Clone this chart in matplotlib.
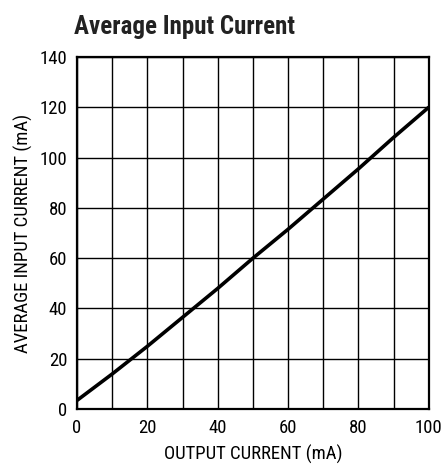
import matplotlib.pyplot as plt
from matplotlib import font_manager

# Wąska czcionka, jeśli jest zainstalowana
dostepne = {f.name for f in font_manager.fontManager.ttflist}
waskie = [n for n in ['Liberation Sans Narrow', 'Roboto Condensed', 'Open Sans Condensed'] if n in dostepne]
plt.rcParams['font.family'] = waskie + ['Liberation Sans', 'DejaVu Sans']

# Dane
output_current = [0, 10, 20, 30, 40, 50, 60, 70, 80, 90, 100]
input_current = [3.5, 14, 25, 36.5, 48, 60, 71.5, 83.5, 95.5, 108, 120]

fig = plt.figure(figsize=(4.43, 4.66), dpi=100)
ax = fig.add_axes([0.174, 0.122, 0.794, 0.756])

ax.plot(output_current, input_current, color='black', linewidth=2.6, solid_capstyle='butt')

ax.set_xlim(0, 100)
ax.set_ylim(0, 140)
ax.set_xticks(range(0, 101, 20))
ax.set_xticks(range(0, 101, 10), minor=True)
ax.set_yticks(range(0, 141, 20))
ax.grid(True, which='both', axis='x', color='black', linewidth=1.0)
ax.grid(True, which='major', axis='y', color='black', linewidth=1.0)
ax.tick_params(which='both', length=0, labelsize=13.5, pad=7)
for s in ax.spines.values():
    s.set_linewidth(1.6)

ax.set_xlabel('OUTPUT CURRENT (mA)', fontsize=13.5, labelpad=6)
ax.set_ylabel('AVERAGE INPUT CURRENT (mA)', fontsize=13.5, labelpad=5)
rozmiar_tytulu = 18 if waskie else 14
fig.text(0.168, 0.942, 'Average Input Current', fontsize=rozmiar_tytulu, fontweight='bold',
         va='center', ha='left', color='#222222')

plt.savefig('out.png')
